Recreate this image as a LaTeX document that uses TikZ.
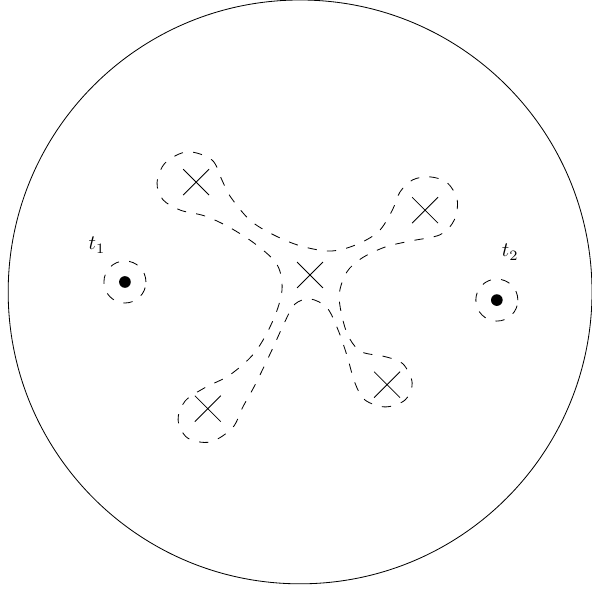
\documentclass[tikz,border=0pt]{standalone}
\usepackage{amsmath,amssymb}
\usetikzlibrary{shapes.misc,positioning}

\begin{document}
\begin{tikzpicture}[
    cutline/.style={dash pattern=on 4.5pt off 5pt},
    branch/.style={draw,cross out,inner sep=0pt,minimum size=0.43cm},
    marked/.style={circle,fill,inner sep=0pt,minimum size=0.2cm},
    loopcirc/.style={draw,cutline,circle,inner sep=0pt,minimum size=0.72cm}]
  \useasboundingbox (-5.14,-5.14) rectangle (5.0,5.0);
  % the disc
  \draw (0,0) circle (5);
  % branch points
  \foreach \x/\y/\name in {0.17/0.29/c, -1.78/1.88/p1, 2.14/1.40/p2, -1.58/-2.00/p3, 1.49/-1.59/p4} {
    \node[branch] (\name) at (\x,\y) {};
  }
  % marked points with small loops
  \foreach \x/\y/\name in {-3.00/0.17/t1, 3.37/-0.14/t2} {
    \node[marked] (\name) at (\x,\y) {};
    \node[loopcirc] (\name loop) at (\name) {};
  }
  \node (lab1) at (-3.48,0.80) {$t_1$};
  \node (lab2) at (3.60,0.68) {$t_2$};
  % dashed contour round the branch points
  \draw[cutline] plot[smooth cycle,tension=0.55] coordinates {
    (-1.93,2.40) (-1.51,2.26) (-1.34,1.92) (-1.20,1.64) (-0.86,1.23)
    (-0.46,0.98) (0.00,0.79) (0.51,0.70) (0.94,0.80) (1.34,1.03)
    (1.58,1.40) (1.71,1.71) (1.93,1.92) (2.23,1.97) (2.52,1.87)
    (2.69,1.58) (2.64,1.23) (2.40,0.98) (1.88,0.87) (1.46,0.77)
    (1.06,0.58) (0.80,0.34) (0.67,-0.05) (0.74,-0.51) (0.86,-0.82)
    (1.06,-1.03) (1.46,-1.11) (1.76,-1.23) (1.92,-1.56) (1.80,-1.85)
    (1.46,-1.97) (1.11,-1.85) (0.94,-1.56) (0.80,-1.08) (0.65,-0.65)
    (0.46,-0.27) (0.17,-0.12) (-0.09,-0.21) (-0.26,-0.51) (-0.48,-0.99)
    (-0.77,-1.59) (-0.98,-1.97) (-1.16,-2.33) (-1.54,-2.57) (-1.93,-2.50)
    (-2.09,-2.19) (-1.97,-1.87) (-1.63,-1.64) (-1.20,-1.42) (-0.77,-1.03)
    (-0.46,-0.48) (-0.31,0.03) (-0.39,0.46) (-0.74,0.80) (-1.20,1.10)
    (-1.63,1.30) (-2.05,1.40) (-2.35,1.58) (-2.45,1.87) (-2.31,2.21)
  };
\end{tikzpicture}
\end{document}
